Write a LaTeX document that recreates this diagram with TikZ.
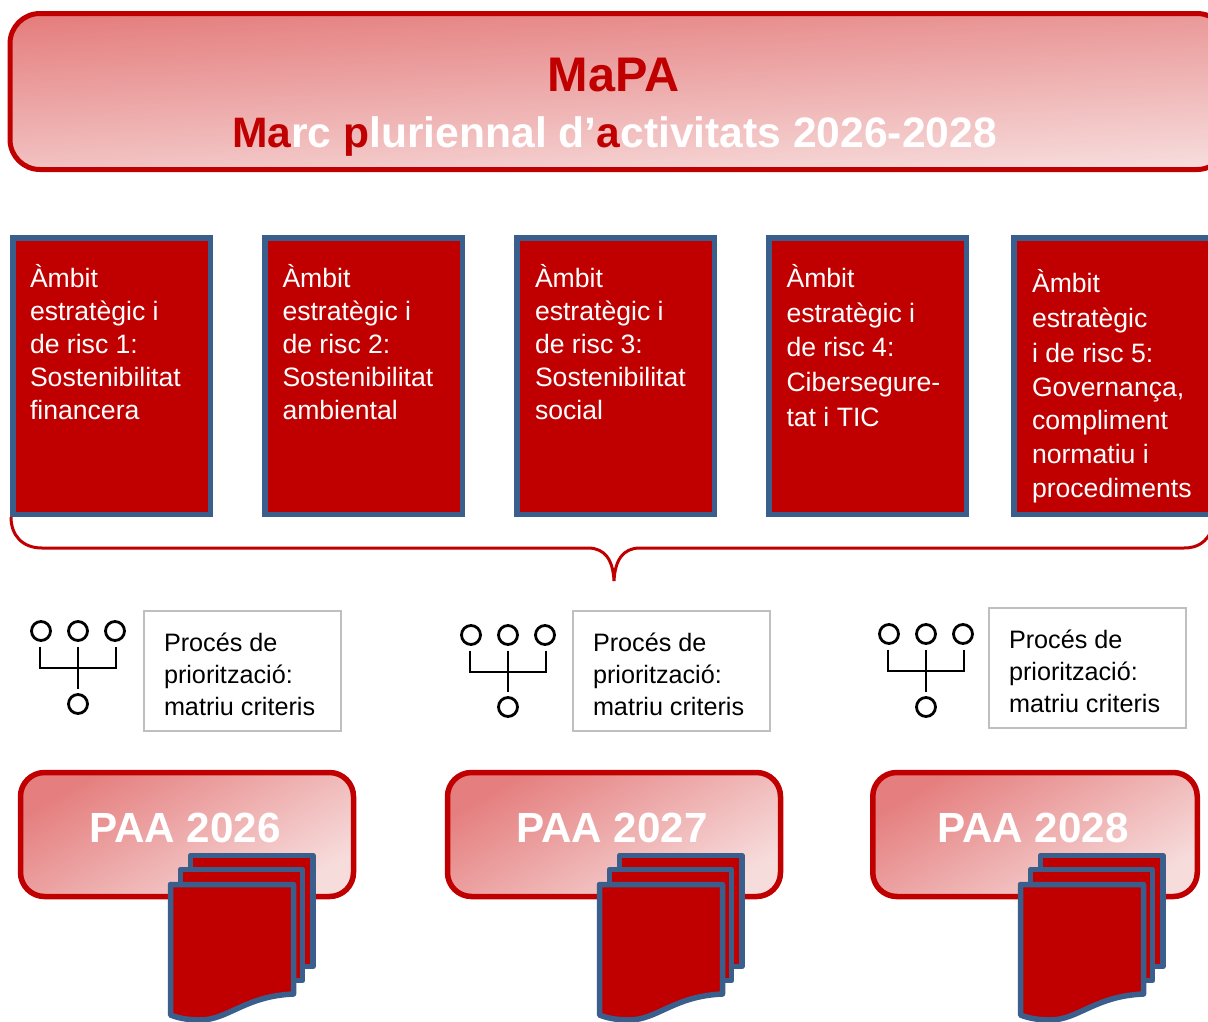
\documentclass[tikz,border=0pt]{standalone}
\usepackage{fontspec}
\setmainfont{Liberation Sans}
\definecolor{mred}{HTML}{C00000}
\definecolor{mblue}{HTML}{3A5F8C}
\definecolor{gradA}{HTML}{E57E7E}
\definecolor{gradB}{HTML}{F7DCDC}
\definecolor{mgray}{HTML}{BFBFBF}
\tikzset{
  topbox/.style={draw=mred,line width=5pt,rounded corners=30pt,top color=gradA,bottom color=gradB,shading angle=3,inner sep=0pt,outer sep=0pt},
  paabox/.style={draw=mred,line width=5.5pt,rounded corners=24pt,top color=gradA,bottom color=gradB,shading angle=30,inner sep=0pt,outer sep=0pt},
  ambitbox/.style={draw=mblue,fill=mred,line width=5.5pt,inner sep=0pt,outer sep=0pt},
  ambittext/.style={text=white,anchor=north west,align=left,inner sep=0pt,outer sep=0pt},
  procbox/.style={draw=mgray,line width=2pt,fill=white,inner sep=0pt,outer sep=0pt,minimum width=197pt,minimum height=119.5pt},
  proctext/.style={text=black,anchor=north west,align=left,inner sep=0pt,outer sep=0pt},
  dot/.style={circle,draw=black,line width=2.8pt,fill=white,minimum size=19pt,inner sep=0pt,outer sep=0pt},
  wire/.style={draw=black,line width=2.8pt},
  page/.style={draw=mblue,fill=mred,line width=5.5pt,line join=round},
  brace/.style={draw=mred,line width=3pt},
  paatitle/.style={text=white,font=\fontsize{42.2}{44}\selectfont\bfseries,inner sep=0pt},
}
\newcommand{\ambitfont}[1]{\fontsize{26.6}{#1}\selectfont}
\newcommand{\prfont}{\fontsize{25.2}{32}\selectfont}
% #1 prefix, #2 x shift, #3 y shift of top row, #4 y of lower circle
\newcommand{\forkicon}[4]{
  \node[dot] (#1a) at (41+#2,631+#3) {};
  \node[dot] (#1b) at (78+#2,631+#3) {};
  \node[dot] (#1c) at (115+#2,631+#3) {};
  \node[dot] (#1d) at (78+#2,#4) {};
  \coordinate (#1j) at (78+#2,668+#3);
  \draw[wire] ([shift={(-1pt,-6pt)}]#1a.south) |- (#1j) -| ([shift={(1pt,-6pt)}]#1c.south);
  \draw[wire] ([yshift=-6pt]#1b.south) -- ([yshift=6pt]#1d.north);
}
\newcommand{\pagestack}[1]{
  \begin{scope}[shift={(#1,0)}]
    \path[page] (190.5,855.5) -- (313,855.5) -- (313,966.5) -- (190.5,966.5) -- cycle;
    \path[page] (180.5,869.5) -- (302.5,869.5) -- (302.5,980.5) -- (180.5,980.5) -- cycle;
    \path[page] (170.5,884.5) -- (293.5,884.5) -- (293.5,994) .. controls (245,996) and (228,1020) .. (200,1020) .. controls (188,1020) and (178,1018) .. (170.5,1015) -- cycle;
  \end{scope}
}
\begin{document}
\begin{tikzpicture}[x=1pt,y=-1pt]
\clip (0,0) rectangle (1208,1021);
\fill[white] (0,0) rectangle (1208,1021);

% title
\node[topbox,minimum width=1217pt,minimum height=156pt] (title) at (618.5,91.5) {};
\node[text=mred,font=\fontsize{48.6}{52}\selectfont\bfseries,inner sep=0pt] (mapa) at (613.5,75) {MaPA};
\node[font=\fontsize{42.6}{46}\selectfont\bfseries,text=white,inner sep=0pt] (marc) at (614.5,136) {\textcolor{mred}{Ma}rc \textcolor{mred}{p}luriennal d’\textcolor{mred}{a}ctivitats 2026-2028};

% ambits
\node[ambitbox,minimum width=197.5pt,minimum height=276.5pt] (a1) at (111.5,376) {};
\node[ambitbox,minimum width=197.5pt,minimum height=276.5pt] (a2) at (363.5,376) {};
\node[ambitbox,minimum width=197.5pt,minimum height=276.5pt] (a3) at (615.5,376) {};
\node[ambitbox,minimum width=197.5pt,minimum height=276.5pt] (a4) at (867.5,376) {};
\node[ambitbox,minimum width=220pt,minimum height=276.5pt] (a5) at (1124,376) {};
\node[ambittext,font=\ambitfont{33}] (t1) at (30,264) {Àmbit\\estratègic i\\de risc 1:\\Sostenibilitat\\financera};
\node[ambittext,font=\ambitfont{33}] (t2) at (282.5,264) {Àmbit\\estratègic i\\de risc 2:\\Sostenibilitat\\ambiental};
\node[ambittext,font=\ambitfont{33}] (t3) at (535,264) {Àmbit\\estratègic i\\de risc 3:\\Sostenibilitat\\social};
\node[ambittext,font=\ambitfont{34.7}] (t4) at (786.5,264.5) {Àmbit\\estratègic i\\de risc 4:\\Cibersegure-\\tat i TIC};
\node[ambittext,font=\ambitfont{33.6}] (t5) at (1032,269.5) {Àmbit\\[1.5pt]estratègic\\[1.5pt]i de risc 5:\\Governança,\\compliment\\normatiu i\\procediments};

% brace
\path[brace] (11,517) .. controls (11,535) and (22,548) .. (42,548) -- (588,548) .. controls (605,548) and (613,560) .. (614,581) .. controls (615,560) and (623,548) .. (640,548) -- (1184,548) .. controls (1198,548) and (1206,542) .. (1212,530);

% process
\forkicon{f1}{0}{0}{704}
\forkicon{f2}{430}{4}{707}
\forkicon{f3}{848}{3}{707}
\node[procbox] (p1) at (242,671) {};
\node[procbox] (p2) at (671,671) {};
\node[procbox] (p3) at (1087,668) {};
\node[proctext,font=\prfont] (q1) at (164,633) {Procés de\\priorització:\\matriu criteris};
\node[proctext,font=\prfont] (q2) at (593,633) {Procés de\\priorització:\\matriu criteris};
\node[proctext,font=\prfont] (q3) at (1009,630) {Procés de\\priorització:\\matriu criteris};

% PAA
\node[paabox,minimum width=333pt,minimum height=124pt] (b1) at (187,834.5) {};
\node[paabox,minimum width=333pt,minimum height=124pt] (b2) at (614,834.5) {};
\node[paabox,minimum width=324.5pt,minimum height=124pt] (b3) at (1035,834.5) {};
\node[paatitle] (l1) at (185,827.5) {PAA 2026};
\node[paatitle] (l2) at (612,827.5) {PAA 2027};
\node[paatitle] (l3) at (1033,827.5) {PAA 2028};
\pagestack{0}
\pagestack{429}
\pagestack{850}
\end{tikzpicture}
\end{document}
